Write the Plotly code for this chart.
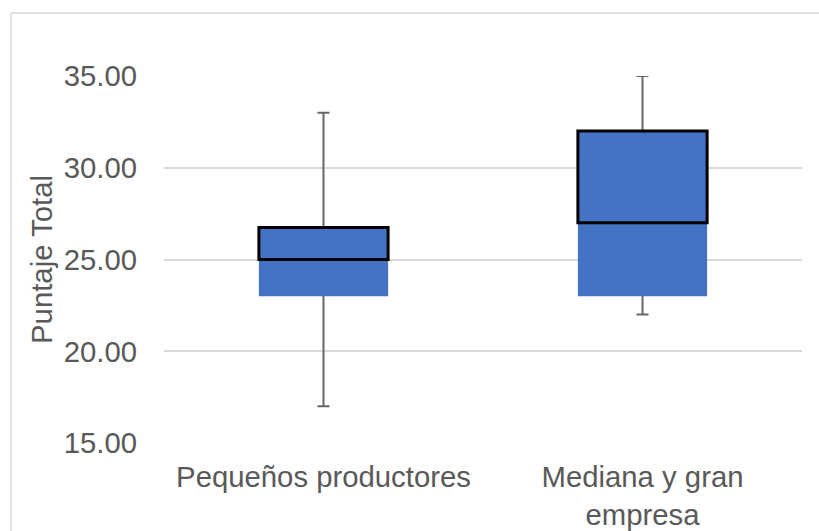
import plotly.graph_objects as go

categories = ["Pequeños productores", "Mediana y gran<br>empresa"]
minimum = [17.0, 22.0]
q1 = [23.0, 23.0]
median = [25.0, 27.0]
q3 = [26.75, 32.0]
maximum = [33.0, 35.0]
y_ticks = [15, 20, 25, 30, 35]

BLUE = "#4472C4"
GRID = "#d9d9d9"
TEXT = "#595959"
FONT = "Liberation Sans, Arial, sans-serif"
FS = 29.3

fig = go.Figure()

# Whiskers (drawn first so the boxes cover the inner part)
fig.add_trace(go.Bar(
    x=categories,
    base=minimum,
    y=[m - lo for m, lo in zip(median, minimum)],
    marker=dict(color="rgba(0,0,0,0)", line=dict(width=0)),
    error_y=dict(
        type="data", symmetric=False,
        array=[hi - m for hi, m in zip(maximum, median)],
        arrayminus=[m - lo for m, lo in zip(median, minimum)],
        color="#666666", thickness=2, width=6,
    ),
    hoverinfo="skip", showlegend=False,
))

# Lower box: Q1 -> median (no border)
fig.add_trace(go.Bar(
    x=categories,
    base=q1,
    y=[m - a for m, a in zip(median, q1)],
    marker=dict(color=BLUE, line=dict(width=0)),
    showlegend=False,
))

# Upper box: median -> Q3 (black border)
fig.add_trace(go.Bar(
    x=categories,
    base=median,
    y=[b - m for b, m in zip(q3, median)],
    marker=dict(color=BLUE, line=dict(color="black", width=3)),
    showlegend=False,
))

W, H = 819, 531
L, T = 164, 76
R = W - L - 638
B = H - T - 367
pw, ph = W - L - R, H - T - B
x_left = (11 - L) / pw
y_top = (H - B - 13) / ph
x_right = (W + 5 - L) / pw
y_bot = (H - B - (H + 5)) / ph

fig.update_layout(
    width=W, height=H,
    margin=dict(l=L, r=R, t=T, b=B, pad=0, autoexpand=False),
    barmode="overlay",
    bargap=0.595,
    paper_bgcolor="white",
    plot_bgcolor="white",
    font=dict(family=FONT, size=FS, color=TEXT),
    showlegend=False,
    xaxis=dict(
        showgrid=False, showline=False, zeroline=False, ticks="",
        tickfont=dict(size=FS, color=TEXT),
        ticklabelstandoff=14,
        automargin=False,
    ),
    yaxis=dict(
        range=[15, 35], tickvals=y_ticks, tickformat=".2f",
        showgrid=True, gridcolor=GRID, gridwidth=1.5,
        showline=False, zeroline=False, ticks="",
        tickfont=dict(size=FS, color=TEXT),
        ticklabelstandoff=26,
        title=dict(text="Puntaje Total", font=dict(size=FS, color=TEXT), standoff=2),
        automargin=False,
    ),
    shapes=[
        dict(type="line", xref="paper", yref="paper", x0=x_left, x1=x_left,
             y0=y_bot, y1=y_top, line=dict(color=GRID, width=1.5), layer="below"),
        dict(type="line", xref="paper", yref="paper", x0=x_left, x1=x_right,
             y0=y_top, y1=y_top, line=dict(color=GRID, width=1.5), layer="below"),
    ],
)

fig.write_html(
    "out.html",
    config={"displayModeBar": False},
    post_script=(
        "document.documentElement.style.margin='0';"
        "document.documentElement.style.overflow='hidden';"
        "document.body.style.margin='0';"
        "document.body.style.overflow='hidden';"
    ),
)
